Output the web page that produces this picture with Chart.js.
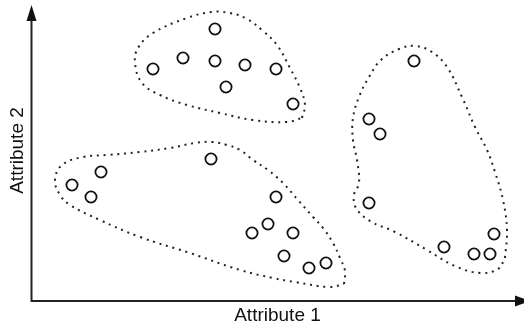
<!DOCTYPE html>
<html>
<head>
<meta charset="utf-8">
<script src="https://cdn.jsdelivr.net/npm/chart.js@4.4.1/dist/chart.umd.min.js"></script>
<style>
  html, body { margin: 0; padding: 0; background: #fff; }
  #wrap { width: 524px; height: 327px; position: relative; }
</style>
</head>
<body>
<div id="wrap"><canvas id="myChart"></canvas></div>
<script>
// observations, [attribute 1, attribute 2]
var clusterTop = [[184,272],[152,243],[184,240],[214,236],[122,232],[195,214],[245,232],[262,197]];
var clusterLeft = [[41,116],[70,129],[60,104],[180,142],[245,104],[237,77],[221,68],[262,68],[253,45],[278,33],[295,38]];
var clusterRight = [[383,240],[338,182],[349,167],[338,98],[413,54],[443,47],[459,47],[463,67]];

// hand drawn cluster boundaries (same units)
var outlineTop = [[271,183],[274,196],[269,213],[259,233],[246,256],[232,270],[216,282],[199,288],[181,289],[156,283],[122,268],[107,253],[104,238],[111,218],[129,206],[156,196],[189,188],[222,181],[256,179],[271,183]];
var outlineLeft = [[313,17],[314,30],[309,43],[302,58],[292,73],[282,84],[267,101],[252,118],[237,131],[222,141],[209,151],[196,156],[181,159],[164,158],[139,153],[109,149],[76,146],[52,144],[31,136],[24,121],[29,106],[39,96],[69,81],[109,64],[159,48],[209,31],[242,23],[264,19],[298,14],[313,17]];
var outlineRight = [[474,43],[476,71],[472,101],[464,129],[456,151],[444,174],[431,204],[416,234],[401,249],[384,255],[368,252],[350,241],[338,224],[328,204],[322,183],[322,161],[326,141],[328,118],[323,106],[325,93],[339,80],[364,69],[396,51],[424,35],[449,28],[467,32],[474,43]];

var xLabel = "Attribute 1";
var yLabel = "Attribute 2";

function toXY(arr) {
	return arr.map(function(p) { return {x: p[0], y: p[1]}; });
}

function pointsSet(arr) {
	return {
		data: toXY(arr),
		pointRadius: 5.6,
		pointBorderWidth: 1.8,
		pointBorderColor: '#111',
		pointBackgroundColor: '#fff',
		showLine: false,
		order: 1
	};
}

function outlineSet(arr) {
	return {
		data: toXY(arr),
		showLine: true,
		pointRadius: 0,
		borderColor: '#222',
		borderWidth: 2,
		borderDash: [2, 4.8],
		tension: 0.4,
		fill: false,
		order: 2
	};
}

// axis lines with arrow heads
var arrowAxes = {
	id: 'arrowAxes',
	afterDraw: function(chart) {
		var ctx = chart.ctx;
		var a = chart.chartArea;
		var x0 = a.left + 0.5, y0 = a.bottom;
		ctx.save();
		ctx.strokeStyle = '#222';
		ctx.fillStyle = '#111';
		ctx.lineWidth = 2;
		ctx.beginPath();
		ctx.moveTo(x0, y0 + 1);
		ctx.lineTo(x0, a.top + 18);
		ctx.moveTo(x0 - 1, y0);
		ctx.lineTo(a.right - 8, y0);
		ctx.stroke();
		// up arrow
		ctx.beginPath();
		ctx.moveTo(x0, a.top + 5);
		ctx.lineTo(x0 - 5, a.top + 21);
		ctx.lineTo(x0 + 5, a.top + 21);
		ctx.closePath();
		ctx.fill();
		// right arrow
		ctx.beginPath();
		ctx.moveTo(a.right + 6, y0);
		ctx.lineTo(a.right - 9, y0 - 5.5);
		ctx.lineTo(a.right - 9, y0 + 5.5);
		ctx.closePath();
		ctx.fill();
		ctx.restore();
	}
};

var ctx = document.getElementById('myChart').getContext('2d');
var chart = new Chart(ctx, {
	type: 'scatter',
	data: {
		datasets: [
			outlineSet(outlineTop),
			outlineSet(outlineLeft),
			outlineSet(outlineRight),
			pointsSet(clusterTop),
			pointsSet(clusterLeft),
			pointsSet(clusterRight)
		]
	},
	options: {
		responsive: true,
		maintainAspectRatio: false,
		animation: false,
		layout: { padding: 0, autoPadding: false },
		plugins: {
			legend: { display: false },
			tooltip: { enabled: false }
		},
		scales: {
			x: {
				min: 0, max: 493,
				grid: { display: false, drawTicks: false },
				border: { display: false },
				ticks: { display: false },
				title: {
					display: true,
					text: xLabel,
					color: '#111',
					font: { family: 'Liberation Sans', size: 19 },
					padding: { top: 3.1, bottom: 0.1 }
				}
			},
			y: {
				min: 0, max: 301,
				grid: { display: false, drawTicks: false },
				border: { display: false },
				ticks: { display: false },
				title: {
					display: true,
					text: yLabel,
					color: '#111',
					font: { family: 'Liberation Sans', size: 19 },
					padding: { top: 6.6, bottom: 1.6 }
				}
			}
		}
	},
	plugins: [arrowAxes]
});
</script>
</body>
</html>
